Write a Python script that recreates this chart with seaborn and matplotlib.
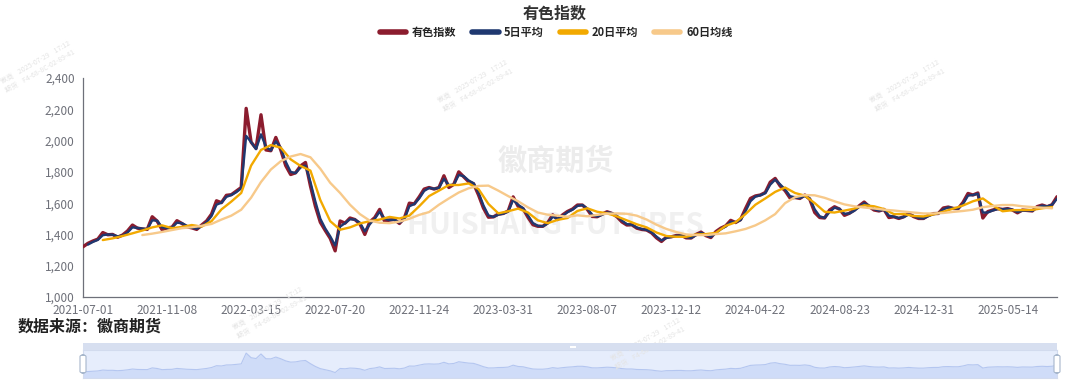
import numpy as np
import pandas as pd
import matplotlib
matplotlib.use("Agg")
import matplotlib.pyplot as plt
import seaborn as sns
from matplotlib.lines import Line2D
from matplotlib.patches import FancyBboxPatch, Rectangle
from matplotlib.ticker import FuncFormatter

# ---------------- data ----------------
title = "有色指数"
series_names = ["有色指数", "5日平均", "20日平均", "60日均线"]
tick_labels = ["2021-07-01", "2021-11-08", "2022-03-15", "2022-07-20", "2022-11-24",
               "2023-03-31", "2023-08-07", "2023-12-12", "2024-04-22", "2024-08-23",
               "2024-12-31", "2025-05-14"]
label_every = 85          # trading days between x labels
index_step = 5            # index sampled every 5 trading days
ma_step = 10              # moving averages sampled every 10 trading days

index_vals = [
    1321, 1343, 1358, 1370, 1412, 1398, 1400, 1382, 1396, 1422,
    1460, 1440, 1435, 1432, 1513, 1485, 1430, 1442, 1446, 1488,
    1470, 1449, 1442, 1432, 1460, 1486, 1530, 1615, 1603, 1650,
    1654, 1677, 1700, 2206, 1990, 1950, 2165, 1940, 1935, 2020,
    1940, 1840, 1783, 1794, 1838, 1860, 1710, 1580, 1478, 1425,
    1375, 1295, 1486, 1472, 1505, 1495, 1468, 1400, 1480, 1507,
    1560, 1484, 1492, 1495, 1470, 1505, 1600, 1595, 1640, 1690,
    1700, 1690, 1700, 1775, 1700, 1720, 1800, 1768, 1737, 1724,
    1652, 1568, 1510, 1512, 1530, 1534, 1550, 1640, 1580, 1565,
    1510, 1462, 1452, 1452, 1475, 1525, 1495, 1525, 1547, 1562,
    1588, 1588, 1560, 1515, 1513, 1530, 1545, 1534, 1513, 1480,
    1460, 1462, 1440, 1432, 1428, 1410, 1378, 1355, 1383, 1385,
    1393, 1394, 1378, 1377, 1400, 1415, 1392, 1380, 1418, 1440,
    1455, 1490, 1476, 1495, 1565, 1630, 1646, 1652, 1668, 1734,
    1758, 1710, 1680, 1633, 1636, 1630, 1652, 1625, 1540, 1508,
    1505, 1556, 1577, 1562, 1522, 1535, 1556, 1583, 1607, 1578,
    1556, 1550, 1560, 1508, 1513, 1502, 1513, 1534, 1514, 1502,
    1502, 1522, 1533, 1534, 1569, 1575, 1566, 1565, 1605, 1662,
    1652, 1665, 1505, 1546, 1556, 1565, 1560, 1565, 1556, 1538,
    1556, 1553, 1550, 1578, 1588, 1577, 1590, 1641]

ma5_vals = [
    None, 1335, 1352, 1365, 1395, 1400, 1398, 1388, 1392, 1412,
    1445, 1442, 1437, 1434, 1490, 1488, 1445, 1440, 1444, 1475,
    1472, 1455, 1444, 1436, 1452, 1478, 1518, 1590, 1603, 1640,
    1652, 1670, 1695, 2030, 1990, 1945, 2040, 1960, 1937, 1995,
    1955, 1865, 1800, 1792, 1828, 1840, 1735, 1610, 1500, 1438,
    1388, 1330, 1450, 1472, 1497, 1495, 1475, 1420, 1465, 1500,
    1545, 1500, 1492, 1494, 1475, 1497, 1580, 1594, 1630, 1678,
    1697, 1692, 1698, 1755, 1715, 1718, 1780, 1772, 1745, 1727,
    1668, 1585, 1522, 1512, 1526, 1533, 1546, 1620, 1590, 1568,
    1522, 1473, 1455, 1452, 1470, 1513, 1500, 1518, 1542, 1558,
    1582, 1588, 1566, 1525, 1514, 1526, 1541, 1536, 1518, 1488,
    1466, 1462, 1445, 1434, 1429, 1414, 1386, 1362, 1377, 1384,
    1391, 1394, 1382, 1378, 1395, 1411, 1397, 1384, 1409, 1433,
    1451, 1481, 1478, 1491, 1548, 1612, 1642, 1650, 1664, 1718,
    1750, 1720, 1688, 1645, 1637, 1632, 1646, 1630, 1560, 1516,
    1506, 1543, 1571, 1564, 1532, 1534, 1551, 1576, 1600, 1585,
    1562, 1552, 1558, 1520, 1514, 1505, 1511, 1528, 1518, 1505,
    1502, 1517, 1530, 1534, 1560, 1573, 1568, 1565, 1595, 1648,
    1652, 1660, 1540, 1540, 1553, 1562, 1561, 1564, 1558, 1543,
    1552, 1553, 1551, 1571, 1584, 1579, 1590, 1628]

ma20_start = 20
ma20_vals = [
    1364, 1375, 1390, 1407, 1425, 1445, 1458, 1440, 1448, 1460,
    1450, 1485, 1560, 1610, 1665, 1840, 1940, 1971, 1955, 1880,
    1838, 1808, 1620, 1485, 1430, 1445, 1470, 1485, 1495, 1512,
    1502, 1520, 1580, 1645, 1680, 1716, 1716, 1726, 1690, 1595,
    1535, 1548, 1565, 1540, 1490, 1472, 1493, 1505, 1550, 1567,
    1545, 1535, 1515, 1490, 1465, 1445, 1412, 1390, 1385, 1385,
    1400, 1402, 1410, 1455, 1478, 1530, 1590, 1630, 1672, 1700,
    1665, 1648, 1600, 1545, 1540, 1552, 1565, 1586, 1580, 1562,
    1530, 1530, 1518, 1515, 1528, 1545, 1565, 1585, 1612, 1630,
    1585, 1548, 1555, 1556, 1557, 1567, 1575]

ma60_start = 60
ma60_vals = [
    1396, 1405, 1416, 1428, 1440, 1446, 1455, 1467, 1495, 1520,
    1558, 1635, 1735, 1815, 1868, 1898, 1914, 1893, 1820, 1730,
    1665, 1590, 1530, 1488, 1475, 1472, 1482, 1500, 1525, 1543,
    1590, 1630, 1668, 1695, 1710, 1712, 1680, 1645, 1612, 1573,
    1540, 1526, 1520, 1513, 1522, 1516, 1525, 1533, 1534, 1532,
    1520, 1495, 1462, 1435, 1415, 1400, 1396, 1396, 1402, 1407,
    1420, 1435, 1458, 1490, 1530, 1600, 1638, 1652, 1650, 1634,
    1612, 1592, 1580, 1572, 1566, 1558, 1553, 1546, 1540, 1534,
    1534, 1537, 1544, 1550, 1558, 1574, 1582, 1588, 1588, 1580,
    1575, 1571, 1567]

source_text = "数据来源：徽商期货"

# ---------------- styling ----------------
colors = ["#8b1c2e", "#1f3870", "#f2a900", "#f7c98a"]
widths = [2.4, 1.7, 1.7, 1.7]

sns.set_theme(style="white")
plt.rcParams["font.family"] = ["Noto Sans CJK SC", "DejaVu Sans"]

df_idx = pd.DataFrame({"day": np.arange(len(index_vals)) * index_step, "v": index_vals})
df_ma5 = pd.DataFrame({"day": np.arange(len(ma5_vals)) * index_step,
                       "v": pd.to_numeric(pd.Series(ma5_vals), errors="coerce")}).dropna()
df_ma20 = pd.DataFrame({"day": ma20_start + np.arange(len(ma20_vals)) * ma_step, "v": ma20_vals})
df_ma60 = pd.DataFrame({"day": ma60_start + np.arange(len(ma60_vals)) * ma_step, "v": ma60_vals})
frames = [df_idx, df_ma5, df_ma20, df_ma60]
x_end = df_idx["day"].max()

W, H = 1080, 391
fig = plt.figure(figsize=(W / 100, H / 100), dpi=100)
ax = fig.add_axes([83 / W, 1 - 297 / H, (1057 - 83) / W, (297 - 78) / H])

# watermarks
ax.text(0.485, 0.62, "徽商期货", transform=ax.transAxes, ha="center", va="center",
        fontsize=21, color="#ececec", fontweight="bold", zorder=0)
ax.text(0.485, 0.33, "HUISHANG FUTURES", transform=ax.transAxes, ha="center", va="center",
        fontsize=21, color="#f0f0f0", fontweight="bold", zorder=0)
for (fx, fy) in [(0.035, 0.83), (0.44, 0.78), (0.84, 0.78), (0.25, 0.2), (0.6, 0.12)]:
    fig.text(fx, fy, "徽商    2025-07-29    17:12\n期货    F4-68-8C-02-89-41", fontsize=5,
             color="#e4e4e4", rotation=30, ha="center", va="center", zorder=0)

for i, (d, c, w) in enumerate(zip(frames, colors, widths)):
    sns.lineplot(data=d, x="day", y="v", ax=ax, color=c, linewidth=w,
                 legend=False, zorder=3 + i)

ax.set_xlim(0, x_end)
ax.set_ylim(1000, 2400)
ax.set_yticks(np.arange(1000, 2401, 200))
ax.yaxis.set_major_formatter(FuncFormatter(lambda v, p: f"{int(v):,}"))
ax.set_xticks(np.arange(len(tick_labels)) * label_every)
ax.set_xticklabels(tick_labels)
ax.set_xlabel("")
ax.set_ylabel("")
for s in ["top", "right"]:
    ax.spines[s].set_visible(False)
for s in ["left", "bottom"]:
    ax.spines[s].set_color("#6e7079")
    ax.spines[s].set_linewidth(0.9)
ax.tick_params(axis="both", which="major", length=4, width=0.9, color="#6e7079",
               labelcolor="#6e7079", labelsize=8.5, pad=2, direction="out")
ax.tick_params(axis="x", pad=1)
ax.grid(False)

# title and legend
fig.text(555 / W, 1 - 14 / H, title, ha="center", va="center", fontsize=11.5,
         fontweight="bold", color="#333333")
handles = [Line2D([0], [0], color=c, lw=4, solid_capstyle="round") for c in colors]
fig.legend(handles, series_names, loc="center", bbox_to_anchor=(556 / W, 1 - 32 / H),
           ncol=4, frameon=False, fontsize=8, handlelength=2.4, handletextpad=0.5,
           columnspacing=1.4, prop={"weight": "bold", "size": 8})

# source text
fig.text(18 / W, 1 - 327 / H, source_text, ha="left", va="center", fontsize=11.5,
         fontweight="bold", color="#222222")

# data-zoom slider
band = Rectangle((83 / W, 1 - 350 / H), (1057 - 83) / W, 7 / H, transform=fig.transFigure,
                 facecolor="#d7dff0", edgecolor="none", zorder=1)
fig.patches.append(band)
sax = fig.add_axes([83 / W, 1 - 378 / H, (1057 - 83) / W, 28 / H])
sax.set_facecolor("#e6edfc")
sns.lineplot(data=df_idx, x="day", y="v", ax=sax, color="#b4c6f0", linewidth=0.8, legend=False)
sax.fill_between(df_idx["day"], 1000, df_idx["v"], color="#cfdcf8", lw=0)
sax.set_xlim(0, x_end)
sax.set_ylim(1040, 2350)
sax.set_xticks([])
sax.set_yticks([])
sax.set_xlabel("")
sax.set_ylabel("")
for s in sax.spines.values():
    s.set_color("#d2dbee")
    s.set_linewidth(0.8)
for hx in [83, 1057]:
    h = FancyBboxPatch(((hx - 3) / W, 1 - 373 / H), 6 / W, 18 / H,
                       boxstyle="round,pad=0,rounding_size=0.004", transform=fig.transFigure,
                       facecolor="white", edgecolor="#a7b7cc", linewidth=0.8, zorder=5)
    fig.patches.append(h)
fig.patches.append(Rectangle((570 / W, 1 - 347.5 / H), 6 / W, 2 / H, transform=fig.transFigure,
                             facecolor="white", edgecolor="none", zorder=5))

fig.savefig("out.png", dpi=100)
